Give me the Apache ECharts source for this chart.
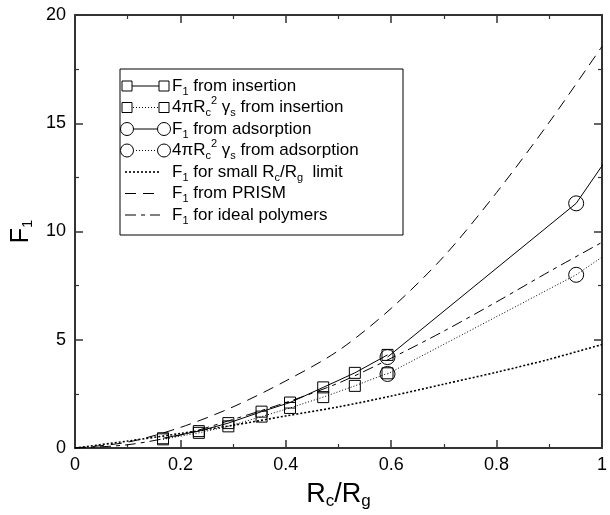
<!DOCTYPE html>
<html><head><meta charset="utf-8">
<script src="https://cdn.jsdelivr.net/npm/echarts@6/dist/echarts.min.js"></script>
<style>html,body{margin:0;padding:0;background:#fff}#c{width:610px;height:515px}</style>
</head><body><div id="c"></div>
<script>
// ---- data ----
const insX = [0.167, 0.235, 0.291, 0.354, 0.408, 0.471, 0.531, 0.593];
const insF1 = [0.45, 0.78, 1.15, 1.68, 2.1, 2.8, 3.47, 4.3];
const insGamma = [0.40, 0.70, 1.0, 1.45, 1.85, 2.35, 2.87, 3.45];
const adsX = [0.593, 0.951, 1.05];
const adsF1 = [4.2, 11.3, 14.8];
const adsGamma = [3.42, 8.0, 9.65];
const curveX = [0, 0.1, 0.2, 0.3, 0.4, 0.5, 0.6, 0.7, 0.8, 0.9, 1.0];
const smallLimit = [0, 0.32, 0.67, 1.05, 1.48, 1.9, 2.4, 2.95, 3.5, 4.1, 4.78];
const prism = [0, 0.27, 0.95, 1.9, 3.1, 4.5, 6.45, 8.85, 11.8, 15.05, 18.55];
const ideal = [0, 0.15, 0.6, 1.32, 2.1, 3.0, 4.15, 5.4, 6.75, 8.15, 9.5];
const xTicks = [0, 0.2, 0.4, 0.6, 0.8, 1];
const yTicks = [0, 5, 10, 15, 20];

const pairs = (xs, ys) => xs.map((x, i) => [x, ys[i]]);
const chart = echarts.init(document.getElementById('c'), null, {renderer: 'canvas'});
const FONT = 'Liberation Sans, Arial, sans-serif';
const AX = '#333';

const axisCommon = {
  axisLine: {show: true, onZero: false, lineStyle: {color: AX, width: 2}},
  axisTick: {show: true, inside: true, length: 8, lineStyle: {color: AX, width: 1.5}},
  minorTick: {show: true, splitNumber: 2, length: 4, lineStyle: {color: AX, width: 1.2}},
  splitLine: {show: false},
};

const series = [];
const mk = (name, data, o) => series.push(Object.assign({name, type: 'line', data, clip: true, animation: false, color: '#000'}, o));
mk('F1 for small', pairs(curveX, smallLimit), {symbol: 'none', smooth: 0.3, lineStyle: {color: '#000', width: 1.6, type: [2, 2]}});
mk('PRISM', pairs(curveX, prism), {symbol: 'none', smooth: 0.3, lineStyle: {color: '#000', width: 1, type: [11, 7]}});
mk('ideal', pairs(curveX, ideal), {symbol: 'none', smooth: 0.3, lineStyle: {color: '#000', width: 1, type: [11, 5, 4, 5]}});
mk('F1 ins', pairs(insX, insF1), {symbol: 'rect', symbolSize: 11, itemStyle: {color: 'transparent', borderColor: '#000', borderWidth: 1}, lineStyle: {color: '#000', width: 1}});
mk('g ins', pairs(insX, insGamma), {symbol: 'rect', symbolSize: 11, itemStyle: {color: 'transparent', borderColor: '#000', borderWidth: 1}, lineStyle: {color: '#000', width: 1, type: [1, 2]}});
mk('F1 ads', pairs(adsX, adsF1), {symbol: 'circle', symbolSize: 15, itemStyle: {color: 'transparent', borderColor: '#000', borderWidth: 1}, lineStyle: {color: '#000', width: 1}});
mk('g ads', pairs(adsX, adsGamma), {symbol: 'circle', symbolSize: 15, itemStyle: {color: 'transparent', borderColor: '#000', borderWidth: 1}, lineStyle: {color: '#000', width: 1, type: [1, 2]}});

// ---- legend drawn with graphic ----
const rich = {
  t: {fontSize: 17, fontFamily: FONT, color: '#000'},
  s: {fontSize: 11, fontFamily: FONT, color: '#000', padding: [11, 0, 0, 0]},
  p: {fontSize: 11, fontFamily: FONT, color: '#000', padding: [0, 0, 14, 0]}
};
const legendRows = [
  {text: '{t|F}{s|1}{t| from insertion}', sym: 'rect', line: 'solid'},
  {text: '{t|4πR}{s|c}{p|2}{t| γ}{s|s}{t| from insertion}', sym: 'rect', line: 'dot'},
  {text: '{t|F}{s|1}{t| from adsorption}', sym: 'circle', line: 'solid'},
  {text: '{t|4πR}{s|c}{p|2}{t| γ}{s|s}{t| from adsorption}', sym: 'circle', line: 'dot'},
  {text: '{t|F}{s|1}{t| for small R}{s|c}{t|/R}{s|g}{t|  limit}', sym: null, line: 'dense'},
  {text: '{t|F}{s|1}{t| from PRISM}', sym: null, line: 'dash'},
  {text: '{t|F}{s|1}{t| for ideal polymers}', sym: null, line: 'dashdot'}
];
const LX = 120, LY = 69, LW = 283, LH = 166, R0 = 86, RS = 21.5;
const graphics = [{type: 'rect', shape: {x: LX, y: LY, width: LW, height: LH}, style: {fill: '#fff', stroke: '#000', lineWidth: 1}, z: 10}];
const dashMap = {solid: null, dot: [1, 2], dense: [2, 2], dash: [11, 7], dashdot: [11, 5, 4, 5]};
legendRows.forEach((r, i) => {
  const y = R0 + i * RS;
  const x1 = r.sym ? 127 : 125, x2 = r.sym ? 164 : 160;
  graphics.push({type: 'line', shape: {x1, y1: y, x2, y2: y}, style: {stroke: '#000', lineWidth: r.line === 'dense' ? 1.6 : 1, lineDash: dashMap[r.line]}, z: 11});
  if (r.sym === 'rect') {
    [x1, x2].forEach(cx => graphics.push({type: 'rect', shape: {x: cx - 5, y: y - 5, width: 10, height: 10}, style: {fill: '#fff', stroke: '#000', lineWidth: 1}, z: 12}));
  } else if (r.sym === 'circle') {
    [x1, x2].forEach(cx => graphics.push({type: 'circle', shape: {cx, cy: y, r: 6.5}, style: {fill: '#fff', stroke: '#000', lineWidth: 1}, z: 12}));
  }
  graphics.push({type: 'text', x: 172, y: y, style: {text: r.text, rich, verticalAlign: 'middle', fill: '#000'}, z: 12});
});

chart.setOption({
  animation: false,
  backgroundColor: '#fff',
  grid: {left: 75, right: 4, top: 15, bottom: 58},
  xAxis: [
    Object.assign({type: 'value', min: 0, max: 1, interval: 0.2, position: 'bottom',
      axisLabel: {fontSize: 18, fontFamily: FONT, color: '#000', margin: 8,
        formatter: v => { const t = xTicks.find(k => Math.abs(k - v) < 1e-9); return t === undefined ? '' : String(t); }},
      name: '{t|R}{s|c}{t|/R}{s|g}', nameLocation: 'middle', nameGap: 33,
      nameTextStyle: {rich: {t: {fontSize: 27, fontFamily: FONT, color: '#000'}, s: {fontSize: 17, fontFamily: FONT, color: '#000', padding: [0, 0, -14, 0]}}}
    }, axisCommon),
    Object.assign({type: 'value', min: 0, max: 1, interval: 0.2, position: 'top', axisLabel: {show: false}}, axisCommon)
  ],
  yAxis: [
    Object.assign({type: 'value', min: 0, max: 20, interval: 5, position: 'left',
      axisLabel: {fontSize: 18, fontFamily: FONT, color: '#000', margin: 9,
        formatter: v => { const t = yTicks.find(k => Math.abs(k - v) < 1e-9); return t === undefined ? '' : String(t); }},
      name: '{t|F}{s|1}', nameLocation: 'middle', nameGap: 38, nameRotate: 90,
      nameTextStyle: {rich: {t: {fontSize: 25, fontFamily: FONT, color: '#000'}, s: {fontSize: 15, fontFamily: FONT, color: '#000', padding: [0, 0, -12, 0]}}}
    }, axisCommon),
    Object.assign({type: 'value', min: 0, max: 20, interval: 5, position: 'right', axisLabel: {show: false}}, axisCommon)
  ],
  graphic: graphics,
  series
});
</script></body></html>
